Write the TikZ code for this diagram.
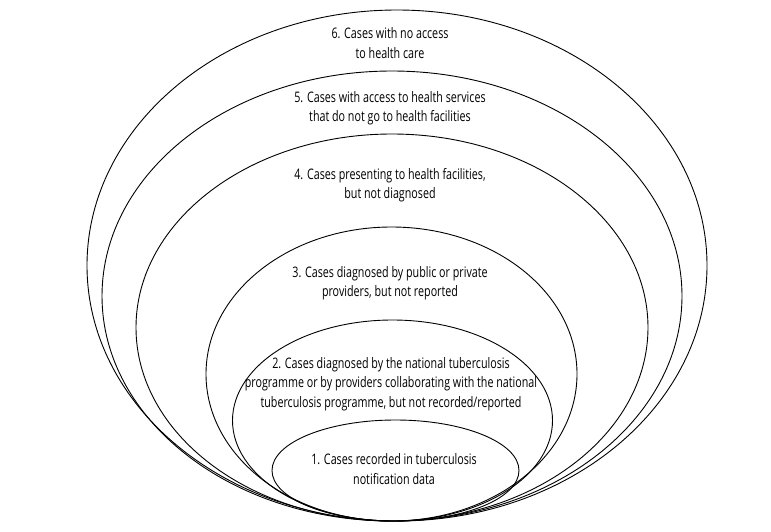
\documentclass[tikz,border=0pt]{standalone}
\usepackage{fontspec}
\setmainfont{Open Sans}[FakeStretch=0.74]
\usetikzlibrary{calc}

\begin{document}
\begin{tikzpicture}[x=1pt,y=-1pt,
    ring/.style={line width=0.9pt},
    caption/.style={align=center,inner sep=0pt,font=\fontsize{14.5}{19.5}\selectfont}]
  \useasboundingbox (0,0) rectangle (771,531);
  % nested ellipses, all resting on the same bottom line y = 521
  \foreach \cx/\rx/\ry in {397/310/255.5, 392/290/225, 392/256/193.5,
                           391.5/185.5/147, 392.5/160/100.5, 395.5/123.5/50.5}
    \draw[ring] (\cx,521-\ry) ellipse [x radius=\rx, y radius=\ry];
  % labels, from the outer ring inwards
  \node[caption] (t6) at (390,43)  {6. Cases with no access\\to health care};
  \node[caption] (t5) at (390,108) {5. Cases with access to health services\\that do not go to health facilities};
  \node[caption] (t4) at (390,185) {4. Cases presenting to health facilities,\\but not diagnosed};
  \node[caption] (t3) at (390,283) {3. Cases diagnosed by public or private\\providers, but not reported};
  \node[caption] (t2) at (391,384) {2. Cases diagnosed by the national tuberculosis\\programme or by providers collaborating with the national\\tuberculosis programme, but not recorded/reported};
  \node[caption] (t1) at (394,469) {1. Cases recorded in tuberculosis\\notification data};
\end{tikzpicture}
\end{document}
